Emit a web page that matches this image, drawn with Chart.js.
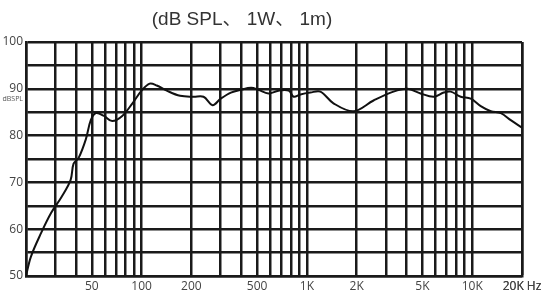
<!DOCTYPE html>
<html>
<head>
<meta charset="utf-8">
<script src="https://cdn.jsdelivr.net/npm/chart.js@4/dist/chart.umd.min.js"></script>
<style>
  html, body { margin: 0; padding: 0; background: #fff; }
  #wrap { width: 554px; height: 297px; }
</style>
</head>
<body>
<div id="wrap"><canvas id="chart" width="554" height="297"></canvas></div>
<script>
// frequency response
const freqHz = [20, 21.4, 24.7, 28.4, 32.8, 37.2, 38.8, 41.7, 46, 49.3, 53, 59.3, 66.4, 76.4, 88.1,
  100, 112, 123.6, 142, 171, 206, 237, 269, 301, 347, 399, 460, 508, 585, 673, 776, 832, 914,
  1050, 1207, 1448, 1915, 2530, 3340, 4060, 4870, 5850, 6720, 7410, 8520, 9790,
  11260, 12950, 14900, 17100, 20000];
const splDb = [50, 54.1, 59.2, 63.5, 66.9, 70.5, 74, 75.3, 79.2, 83.3, 84.8, 84.2, 83.1, 84.2, 86.9,
  89.6, 91.1, 90.7, 89.6, 88.5, 88.3, 88.3, 86.5, 87.9, 89.2, 89.8, 90.2, 89.8, 89.0, 89.6, 89.6, 88.3, 88.8,
  89.2, 89.4, 86.9, 85.2, 87.5, 89.4, 90, 89, 88.3, 89.2, 89.4, 88.3, 87.9,
  86.3, 85.2, 84.8, 83.3, 81.7];

// tick labels
const xLabelValues = [50, 100, 200, 500, 1000, 2000, 5000, 10000, 20000];
const xLabelText = ['50', '100', '200', '500', '1K', '2K', '5K', '10K', '20K Hz'];
const yLabelValues = [50, 60, 70, 80, 90, 100];
const titleText = '(dB SPL\u3001 1W\u3001 1m)';
const unitText = 'dBSPL';

// grid lines at 2..9 x each decade, 20 Hz to 20 kHz
const xGrid = [];
for (let dec = 10; dec <= 10000; dec *= 10) {
  for (let m = 1; m <= 9; m++) {
    const v = m * dec;
    if (v >= 20 && v <= 20000) xGrid.push(v);
  }
}
xGrid.push(20000);

const points = freqHz.map((f, i) => ({ x: f, y: splDb[i] }));

const textPlugin = {
  id: 'extraText',
  afterDraw(chart) {
    const ctx = chart.ctx;
    ctx.save();
    ctx.fillStyle = '#333';
    ctx.font = '19px "Liberation Sans", "Noto Sans CJK SC", sans-serif';
    ctx.textAlign = 'center';
    ctx.textBaseline = 'middle';
    ctx.fillText(titleText, 242, 20);
    ctx.fillStyle = '#555';
    ctx.font = '7px "Open Sans", sans-serif';
    ctx.textAlign = 'right';
    ctx.fillText(unitText, 23, 99);
    ctx.restore();
  }
};

new Chart(document.getElementById('chart').getContext('2d'), {
  type: 'scatter',
  data: {
    datasets: [{
      data: points,
      showLine: true,
      borderColor: '#111',
      borderWidth: 2,
      pointRadius: 0,
      tension: 0.35,
      fill: false
    }]
  },
  options: {
    responsive: false,
    animation: false,
    layout: { padding: { top: 42, right: 32, left: 0, bottom: 0 } },
    plugins: { legend: { display: false }, tooltip: { enabled: false } },
    scales: {
      x: {
        type: 'logarithmic',
        min: 20,
        max: 20000,
        afterBuildTicks: (scale) => { scale.ticks = xGrid.map(v => ({ value: v })); },
        afterFit: (scale) => { scale.height = 21; },
        grid: { color: '#1a1a1a', lineWidth: 2.5, drawTicks: false },
        border: { color: '#1a1a1a', width: 2.5 },
        ticks: {
          autoSkip: false,
          maxRotation: 0,
          padding: 3,
          color: '#444',
          font: { family: '"Open Sans", sans-serif', size: 12 },
          callback: (v) => {
            const i = xLabelValues.indexOf(v);
            return i >= 0 ? xLabelText[i] : '';
          }
        }
      },
      y: {
        min: 50,
        max: 100,
        afterBuildTicks: (scale) => {
          const t = [];
          for (let v = 50; v <= 100; v += 5) t.push({ value: v });
          scale.ticks = t;
        },
        afterFit: (scale) => { scale.width = 26; },
        grid: { color: '#1a1a1a', lineWidth: 2.5, drawTicks: false },
        border: { color: '#1a1a1a', width: 2.5 },
        ticks: {
          autoSkip: false,
          padding: 3,
          color: '#444',
          font: { family: '"Open Sans", sans-serif', size: 12 },
          callback: (v) => yLabelValues.includes(v) ? String(v) : ''
        }
      }
    }
  },
  plugins: [textPlugin]
});
</script>
</body>
</html>
